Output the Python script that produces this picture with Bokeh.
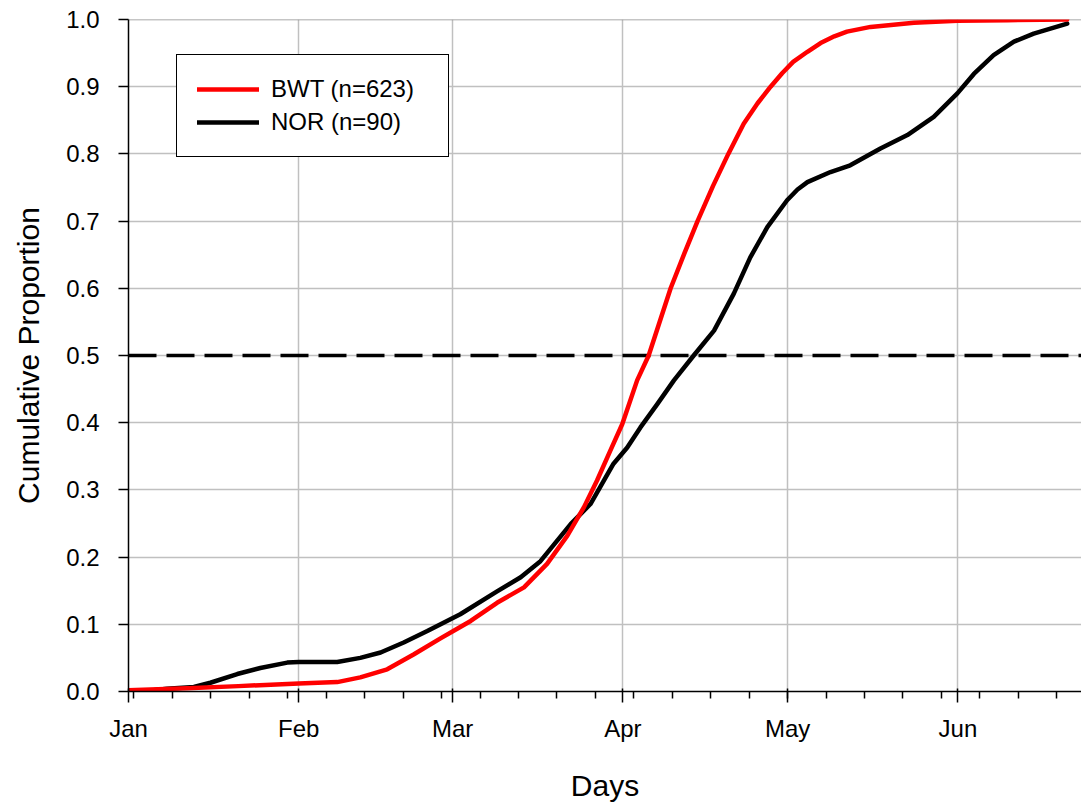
from bokeh.plotting import figure
from bokeh.models import FixedTicker, Span, Legend, LegendItem, NumeralTickFormatter, Range1d
from bokeh.embed import file_html
from bokeh.resources import INLINE

# ---- data (day of year, Jan 1 = 0) ----
month_labels = ["Jan", "Feb", "Mar", "Apr", "May", "Jun"]
month_start_days = [0, 31, 59, 90, 120, 151]
week_tick_days = [1, 8, 15, 22, 29, 36, 43, 50, 57, 64, 71, 78, 85, 92, 99, 106,
                  113, 120, 127, 134, 141, 148, 155, 162, 169]
y_ticks = [0.0, 0.1, 0.2, 0.3, 0.4, 0.5, 0.6, 0.7, 0.8, 0.9, 1.0]
x_end_day = 173.5
median_level = 0.5
y_max = 1.0

bwt_day = [0, 10.7, 20, 31, 38, 42.2, 47.1, 51.9, 56.8, 60.4, 62.3, 67.1, 72, 76.2,
           79.9, 82.9, 85.3, 87.7, 89.9, 92.6, 94.7, 96.5, 98.7, 101.2, 103.6,
           106.4, 109.2, 112.0, 114.5, 116.9, 119.0, 121.0, 123.6, 126, 128.5,
           130.8, 135.1, 143, 150.9, 160, 170.9]
bwt_val = [0.002, 0.005, 0.008, 0.012, 0.014, 0.021, 0.033, 0.055, 0.079, 0.096,
           0.105, 0.132, 0.155, 0.19, 0.232, 0.274, 0.314, 0.358, 0.398, 0.463,
           0.5, 0.545, 0.600, 0.652, 0.700, 0.752, 0.800, 0.845, 0.875, 0.900,
           0.920, 0.937, 0.952, 0.965, 0.975, 0.982, 0.989, 0.995, 0.998, 0.999, 1.0]

nor_day = [2.5, 7, 11.9, 14.9, 19.8, 24, 28.9, 31, 38, 42.2, 45.9, 50.1, 54.4, 57,
           60.4, 67.1, 71.4, 75, 80.5, 84.1, 88.3, 90.8, 93.2, 96.3, 99.3, 102.9,
           106.6, 110.2, 113.2, 116.3, 119.9, 121.8, 123.6, 127.8, 131.4, 136.9,
           141.8, 146.6, 150.9, 153.9, 157.5, 161.2, 164.8, 170.9]
nor_val = [0.0, 0.004, 0.0067, 0.013, 0.026, 0.035, 0.043, 0.044, 0.044, 0.050,
           0.058, 0.073, 0.090, 0.101, 0.115, 0.149, 0.170, 0.194, 0.249, 0.279,
           0.339, 0.363, 0.393, 0.428, 0.463, 0.5, 0.537, 0.592, 0.646, 0.691,
           0.731, 0.747, 0.758, 0.773, 0.783, 0.808, 0.828, 0.855, 0.890, 0.919,
           0.947, 0.967, 0.979, 0.994]

FONT = "Liberation Sans"

p = figure(width=1081, height=805, output_backend="svg", toolbar_location=None,
           x_range=Range1d(0, x_end_day), y_range=Range1d(0, y_max),
           min_border_left=128, min_border_right=0, min_border_top=19,
           min_border_bottom=114)
p.outline_line_color = None
p.background_fill_color = "white"
p.border_fill_color = "white"

# grids
p.xgrid.ticker = FixedTicker(ticks=month_start_days)
p.ygrid.ticker = FixedTicker(ticks=y_ticks)
for g in (p.xgrid, p.ygrid):
    g.grid_line_color = "#c0c0c0"
    g.grid_line_width = 1.5

top_line = Span(location=y_max, dimension="width", line_color="#8c8c8c",
                line_width=1.5, level="underlay")
p.add_layout(top_line)

med = Span(location=median_level, dimension="width", line_color="black",
           line_width=3.5, line_dash="28 10", level="underlay")
p.add_layout(med)

# curves
r_nor = p.line(nor_day, nor_val, line_color="black", line_width=4.5,
               line_join="round", line_cap="round")
r_bwt = p.line(bwt_day, bwt_val, line_color="#ff0000", line_width=4.5,
               line_join="round", line_cap="round")

# x axis
xa = p.xaxis[0]
xa.ticker = FixedTicker(ticks=month_start_days, minor_ticks=week_tick_days)
xa.major_label_overrides = {d: m for d, m in zip(month_start_days, month_labels)}
xa.major_tick_in = 3
xa.major_tick_out = 11
xa.minor_tick_in = 0
xa.minor_tick_out = 7
xa.axis_label = "Days"
xa.major_label_standoff = 12
xa.axis_label_standoff = 24

# y axis
ya = p.yaxis[0]
ya.ticker = FixedTicker(ticks=y_ticks)
ya.formatter = NumeralTickFormatter(format="0.0")
ya.major_tick_in = 0
ya.major_tick_out = 10
ya.minor_tick_out = 0
ya.axis_label = "Cumulative Proportion"
ya.major_label_standoff = 19
ya.axis_label_standoff = 18

for ax in (xa, ya):
    ax.axis_line_color = "black"
    ax.axis_line_width = 1.5
    ax.major_tick_line_color = "black"
    ax.major_tick_line_width = 1.5
    ax.minor_tick_line_color = "black"
    ax.minor_tick_line_width = 1.5
    ax.major_label_text_font = FONT
    ax.major_label_text_font_size = "24px"
    ax.major_label_text_color = "black"
    ax.axis_label_text_font = FONT
    ax.axis_label_text_font_size = "30px"
    ax.axis_label_text_font_style = "normal"
    ax.axis_label_text_color = "black"

legend = Legend(items=[LegendItem(label="BWT (n=623)", renderers=[r_bwt]),
                       LegendItem(label="NOR (n=90)", renderers=[r_nor])],
                location=(48, 534))
legend.label_text_font = FONT
legend.label_text_font_size = "24px"
legend.label_text_color = "black"
legend.glyph_width = 62
legend.glyph_height = 28
legend.label_height = 28
legend.label_width = 157
legend.label_standoff = 12
legend.spacing = 5
legend.padding = 20
legend.margin = 0
legend.border_line_color = "black"
legend.border_line_alpha = 1.0
legend.border_line_width = 1.5
legend.background_fill_color = "white"
legend.background_fill_alpha = 1.0
p.add_layout(legend)

open("out.html", "w").write(file_html(p, INLINE))
